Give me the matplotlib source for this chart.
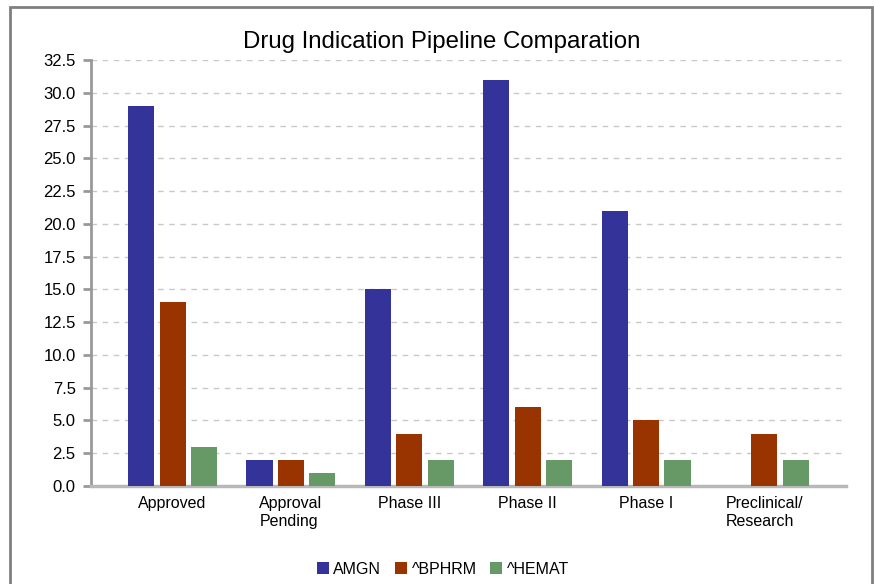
import numpy as np
import matplotlib
matplotlib.use("Agg")
import matplotlib.pyplot as plt
from matplotlib.patches import Rectangle

plt.rcParams['font.family'] = ['Liberation Sans', 'DejaVu Sans']

categories = ["Approved", "Approval\nPending", "Phase III", "Phase II", "Phase I", "Preclinical/\nResearch"]
amgn = [29, 2, 15, 31, 21, 0]
bphrm = [14, 2, 4, 6, 5, 4]
hemat = [3, 1, 2, 2, 2, 2]
series_names = ["AMGN", "^BPHRM", "^HEMAT"]
colors = ["#343399", "#993300", "#669966"]

fig = plt.figure(figsize=(8.75, 5.84), dpi=100)
# outer frame
fig.patches.append(Rectangle((10 / 875, -0.05), 862 / 875, 1.05 - 7 / 584,
                             transform=fig.transFigure, fill=False,
                             edgecolor="#808080", linewidth=2))

ax = fig.add_axes([91 / 875, 1 - 486 / 584, 755 / 875, 426 / 584])

x = np.arange(len(categories))
w = 0.22
step = 0.266
for i, (vals, name, c) in enumerate(zip([amgn, bphrm, hemat], series_names, colors)):
    ax.bar(x + (i - 1) * step, vals, width=w, color=c, label=name, zorder=3)

ax.set_xlim(-0.69, 5.69)
ax.set_ylim(0, 32.5)
ax.set_yticks(np.arange(0, 32.6, 2.5))
ax.set_yticklabels([f"{v:.1f}" for v in np.arange(0, 32.6, 2.5)], fontsize=12)
ax.set_xticks(x)
ax.set_xticklabels(categories, fontsize=11.5, va="top", ha="center",
                   multialignment="left", linespacing=1.3)
ax.tick_params(axis="x", length=0, pad=7)
ax.tick_params(axis="y", length=6, width=2, color="#999999", pad=5)

ax.grid(axis="y", linestyle=(0, (4, 4)), color="#c8c8c8", linewidth=1, zorder=0)
for s in ["top", "right"]:
    ax.spines[s].set_visible(False)
ax.spines["left"].set_color("#999999")
ax.spines["left"].set_linewidth(2)
ax.spines["bottom"].set_color("#b8b8b8")
ax.spines["bottom"].set_linewidth(2.5)

fig.text(442 / 875, 1 - 42 / 584, "Drug Indication Pipeline Comparation",
         ha="center", va="center", fontsize=17.3)

fig.legend(loc="center", bbox_to_anchor=(443 / 875, 1 - 569 / 584), ncol=3,
           frameon=False, fontsize=11.5, handlelength=0.75, handleheight=0.75,
           handletextpad=0.3, columnspacing=0.85)

fig.savefig("out.png", dpi=100)
